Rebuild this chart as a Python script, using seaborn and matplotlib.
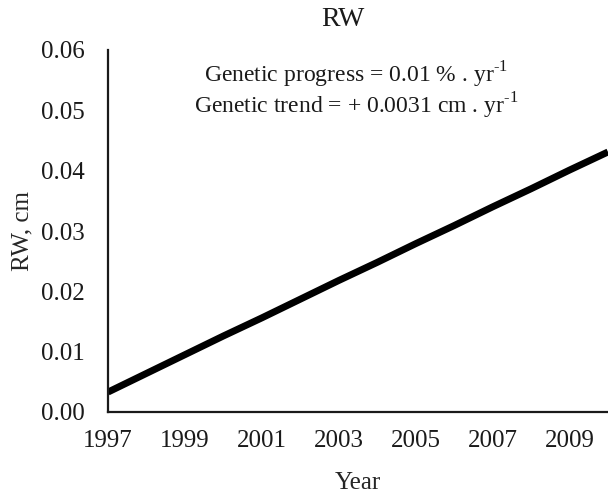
import pandas as pd
import matplotlib.pyplot as plt
import seaborn as sns

# Values
years = [1997, 1998, 1999, 2000, 2001, 2002, 2003, 2004, 2005, 2006, 2007, 2008, 2009, 2010]
rw_cm = [0.0033, 0.0064, 0.0095, 0.0126, 0.0156, 0.0187, 0.0218,
         0.0248, 0.0279, 0.0309, 0.0340, 0.0370, 0.0401, 0.0431]
x_ticks = [1997, 1999, 2001, 2003, 2005, 2007, 2009]
y_ticks = [0.00, 0.01, 0.02, 0.03, 0.04, 0.05, 0.06]

df = pd.DataFrame({"Year": years, "RW": rw_cm})

sns.set_style("white")
plt.rcParams["font.family"] = ["Liberation Serif", "DejaVu Serif"]
plt.rcParams["mathtext.fontset"] = "custom"
plt.rcParams["mathtext.rm"] = "Liberation Serif"
plt.rcParams["text.color"] = "#1a1a1a"

fig = plt.figure(figsize=(6.08, 4.95), dpi=100)
ax = fig.add_axes([108 / 608, 1 - 412 / 495, 1 - 108 / 608, (412 - 50) / 495])

sns.lineplot(data=df, x="Year", y="RW", color="black", linewidth=5,
             solid_capstyle="butt", ax=ax)

ax.set_xlim(1997, 2010)
ax.set_ylim(0, 0.06)
ax.set_xticks(x_ticks)
ax.set_yticks(y_ticks)
ax.set_yticklabels([f"{v:.2f}" for v in y_ticks])
ax.tick_params(axis="both", length=0, labelsize=18, colors="#1a1a1a")
ax.tick_params(axis="y", pad=17)
ax.tick_params(axis="x", pad=13)

sns.despine(ax=ax)
for side in ["left", "bottom"]:
    ax.spines[side].set_linewidth(1.6)
    ax.spines[side].set_color("#1a1a1a")

ax.set_xlabel("Year", fontsize=18)
ax.set_ylabel("RW, cm", fontsize=18)
ax.yaxis.set_label_coords(-0.15, 0.5)
ax.xaxis.set_label_coords(0.5, -0.165)

fig.text(343 / 608, 1 - 20 / 495, "RW", fontsize=20, ha="center", va="center")
ax.text(0.496, 0.93, r"Genetic progress = 0.01 % . yr$^{\text{-1}}$",
        transform=ax.transAxes, fontsize=17, ha="center", va="center")
ax.text(0.496, 0.845, r"Genetic trend = + 0.0031 cm . yr$^{\text{-1}}$",
        transform=ax.transAxes, fontsize=17, ha="center", va="center")

fig.savefig("out.png", dpi=100)
